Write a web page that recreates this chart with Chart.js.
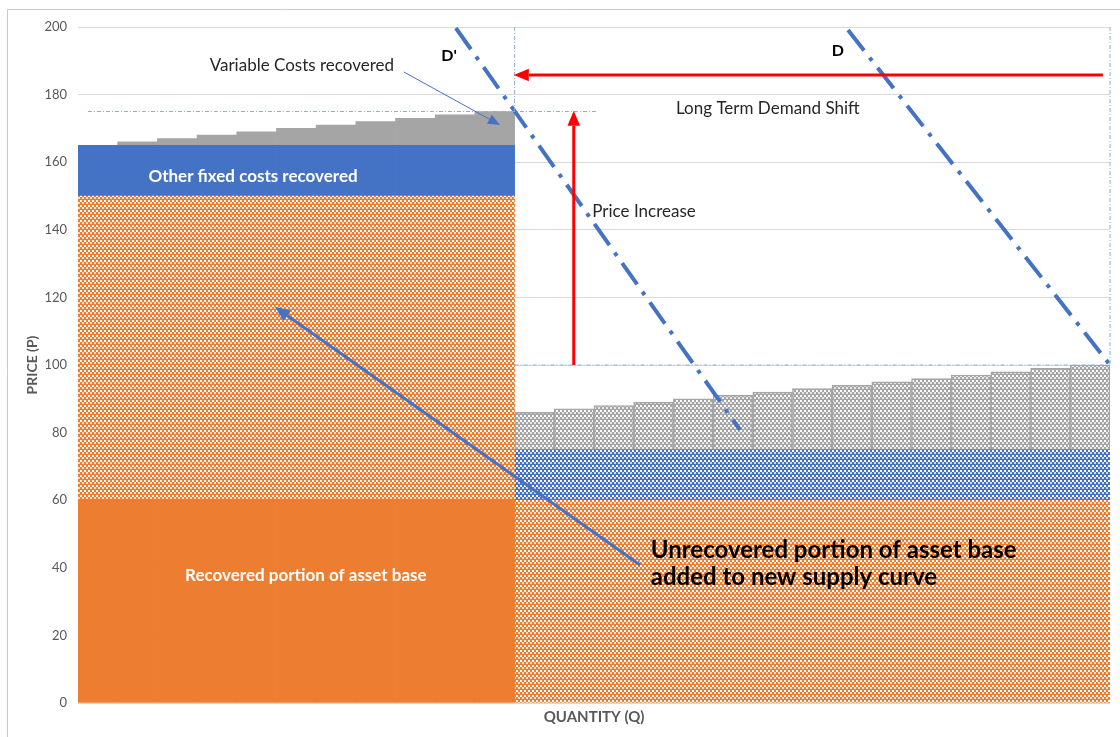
<!DOCTYPE html>
<html>
<head>
<meta charset="utf-8">
<script src="https://cdn.jsdelivr.net/npm/chart.js@4.4.0/dist/chart.umd.min.js"></script>
<style>
  html, body { margin: 0; padding: 0; background: #fff; }
  #wrap { width: 1120px; height: 737px; position: relative; }
</style>
</head>
<body>
<div id="wrap"><canvas id="graficoOferta" width="1120" height="737"></canvas></div>
<script>
// categorias de cantidad (26 bloques de capacidad)
const cantidades = ["1","2","3","4","5","6","7","8","9","10","11","12","13",
  "14","15","16","17","18","19","20","21","22","23","24","25","26"];

// series apiladas (precio)
const activoRecuperado = [60,60,60,60,60,60,60,60,60,60,60,
  null,null,null,null,null,null,null,null,null,null,null,null,null,null,null];
const activoNoRecuperado = [90,90,90,90,90,90,90,90,90,90,90,
  60,60,60,60,60,60,60,60,60,60,60,60,60,60,60];
const fijosRecuperados = [15,15,15,15,15,15,15,15,15,15,15,
  null,null,null,null,null,null,null,null,null,null,null,null,null,null,null];
const fijosNuevos = [null,null,null,null,null,null,null,null,null,null,null,
  15,15,15,15,15,15,15,15,15,15,15,15,15,15,15];
const variablesRecuperados = [0,1,2,3,4,5,6,7,8,9,10,
  null,null,null,null,null,null,null,null,null,null,null,null,null,null,null];
const variablesNuevos = [null,null,null,null,null,null,null,null,null,null,null,
  11,12,13,14,15,16,17,18,19,20,21,22,23,24,25];

// curvas de demanda, x en unidades de indice de categoria (bloque 1 = 0)
const demandaNueva = [{x: 9.02, y: 199.7}, {x: 16.18, y: 80.8}];
const demandaOriginal = [{x: 18.9, y: 199.1}, {x: 25.5, y: 100}];

// lineas guia punteadas
const guias = [
  {desde: [10.5, 200], hasta: [10.5, 175]},
  {desde: [-0.25, 175], hasta: [12.6, 175]},
  {desde: [10.5, 100], hasta: [25.5, 100]},
  {desde: [25.5, 200], hasta: [25.5, 100]}
];

// flechas
const flechas = [
  {desde: [25.32, 185.8], hasta: [10.48, 185.8], color: "#FF0000", ancho: 3, punta: 15},
  {desde: [11.99, 100], hasta: [11.99, 175.2], color: "#FF0000", ancho: 3, punta: 15},
  {desde: [7.71, 186.7], hasta: [10.13, 171.0], color: "#4472C4", ancho: 1, punta: 12},
  {desde: [13.66, 40.8], hasta: [4.46, 117.2], color: "#4472C4", ancho: 3, punta: 15}
];

// textos
const textos = [
  {t: "Variable Costs recovered", x: 5.14, y: 188.5, f: "17px Lato", c: "#262626"},
  {t: "D'", x: 8.85, y: 191.4, f: "bold 16px Lato", c: "#000"},
  {t: "D", x: 18.64, y: 192.9, f: "bold 16px Lato", c: "#000"},
  {t: "Long Term Demand Shift", x: 16.88, y: 176.0, f: "17px Lato", c: "#262626"},
  {t: "Price Increase", x: 13.76, y: 145.3, f: "17px Lato", c: "#262626"},
  {t: "Other fixed costs recovered", x: 3.91, y: 155.9, f: "bold 17px Lato", c: "#fff"},
  {t: "Recovered portion of asset base", x: 5.24, y: 37.6, f: "bold 17px Lato", c: "#fff"},
  {t: "Unrecovered portion of asset base", x: 13.93, y: 45.3, f: "bold 24px Lato", c: "#000", a: "left"},
  {t: "added to new supply curve", x: 13.93, y: 37.3, f: "bold 24px Lato", c: "#000", a: "left"}
];

const canvas = document.getElementById("graficoOferta");
const ctx = canvas.getContext("2d");

// trama tipo excel: cuadritos blancos desplazados y una fila lisa
function trama(color) {
  const c = document.createElement("canvas");
  c.width = 4; c.height = 5;
  const g = c.getContext("2d");
  g.fillStyle = color;
  g.fillRect(0, 0, 4, 5);
  g.fillStyle = "#ffffff";
  g.fillRect(0, 0, 2, 2);
  g.fillStyle = "rgba(255,255,255,0.75)";
  g.fillRect(2, 2, 2, 2);
  return ctx.createPattern(c, "repeat");
}

const naranja = "#ED7D31";
const azul = "#4472C4";
const gris = "#A5A5A5";
const tramaNaranja = trama(naranja);
const tramaAzul = trama(azul);
const tramaGris = trama(gris);

const anotaciones = {
  id: "anotaciones",
  beforeDraw(chart) {
    const c = chart.ctx;
    c.save();
    c.strokeStyle = "#C9C9C9";
    c.lineWidth = 1;
    c.beginPath();
    c.moveTo(7.5, 737);
    c.lineTo(7.5, 9.5);
    c.lineTo(1120, 9.5);
    c.stroke();
    c.restore();
  },
  afterDraw(chart) {
    const c = chart.ctx;
    const sx = chart.scales.x;
    const sy = chart.scales.y;
    const px = v => sx.getPixelForValue(v);
    const py = v => sy.getPixelForValue(v);

    c.save();
    c.strokeStyle = "#8FAADC";
    c.lineWidth = 1;
    c.setLineDash([4, 2, 1, 2]);
    guias.forEach(g => {
      c.beginPath();
      c.moveTo(px(g.desde[0]), py(g.desde[1]));
      c.lineTo(px(g.hasta[0]), py(g.hasta[1]));
      c.stroke();
    });
    c.setLineDash([]);

    flechas.forEach(f => {
      const x0 = px(f.desde[0]), y0 = py(f.desde[1]);
      const x1 = px(f.hasta[0]), y1 = py(f.hasta[1]);
      const ang = Math.atan2(y1 - y0, x1 - x0);
      const largo = f.punta, mitad = f.punta * 0.42;
      const bx = x1 - Math.cos(ang) * largo, by = y1 - Math.sin(ang) * largo;
      c.strokeStyle = f.color;
      c.fillStyle = f.color;
      c.lineWidth = f.ancho;
      c.beginPath();
      c.moveTo(x0, y0);
      c.lineTo(bx, by);
      c.stroke();
      c.beginPath();
      c.moveTo(x1, y1);
      c.lineTo(bx + Math.sin(ang) * mitad, by - Math.cos(ang) * mitad);
      c.lineTo(bx - Math.sin(ang) * mitad, by + Math.cos(ang) * mitad);
      c.closePath();
      c.fill();
    });

    c.textBaseline = "middle";
    textos.forEach(t => {
      c.font = t.f;
      c.fillStyle = t.c;
      c.textAlign = t.a || "center";
      c.fillText(t.t, px(t.x), py(t.y));
    });
    c.restore();
  }
};

const barra = {
  barPercentage: 1,
  categoryPercentage: 1,
  grouped: false,
  stack: "oferta",
  borderWidth: 0,
  order: 2,
  yAxisID: "y"
};

const demanda = {
  type: "line",
  parsing: false,
  yAxisID: "yq",
  order: 0,
  borderColor: azul,
  borderWidth: 4,
  borderDash: [26, 9, 4, 9],
  borderCapStyle: "butt",
  pointRadius: 0,
  fill: false
};

new Chart(ctx, {
  type: "bar",
  data: {
    labels: cantidades,
    datasets: [
      {...barra, label: "Recovered portion of asset base", data: activoRecuperado, backgroundColor: naranja},
      {...barra, label: "Unrecovered portion of asset base", data: activoNoRecuperado, backgroundColor: () => tramaNaranja},
      {...barra, label: "Other fixed costs recovered", data: fijosRecuperados, backgroundColor: azul},
      {...barra, label: "Other fixed costs", data: fijosNuevos, backgroundColor: () => tramaAzul},
      {...barra, label: "Variable Costs recovered", data: variablesRecuperados, backgroundColor: gris},
      {...barra, label: "Variable Costs", data: variablesNuevos, backgroundColor: () => tramaGris,
        borderWidth: 1.5, borderColor: gris},
      {...demanda, label: "D'", data: demandaNueva},
      {...demanda, label: "D", data: demandaOriginal}
    ]
  },
  options: {
    responsive: false,
    animation: false,
    layout: {padding: {top: 27, right: 10, left: 0, bottom: 0}},
    plugins: {legend: {display: false}, tooltip: {enabled: false}},
    scales: {
      x: {
        stacked: true,
        grid: {display: false},
        border: {display: false},
        ticks: {display: false},
        title: {display: true, text: "QUANTITY (Q)", color: "#595959",
          font: {family: "Lato", size: 15, weight: "bold"}, padding: {top: 0, bottom: 11}},
        afterFit: s => { s.height = 34; }
      },
      y: {
        stacked: true,
        min: 0,
        max: 200,
        ticks: {stepSize: 20, color: "#595959", padding: 11, font: {family: "Lato", size: 13}},
        grid: {color: "#D9D9D9", drawTicks: false},
        border: {display: false},
        title: {display: true, text: "PRICE (P)", color: "#595959",
          font: {family: "Lato", size: 14, weight: "bold"}, padding: {top: 24, bottom: 0}},
        afterFit: s => { s.width = 78; }
      },
      // eje de precio sin apilar para las curvas de demanda
      yq: {type: "linear", min: 0, max: 200, display: false}
    }
  },
  plugins: [anotaciones]
});
</script>
</body>
</html>
